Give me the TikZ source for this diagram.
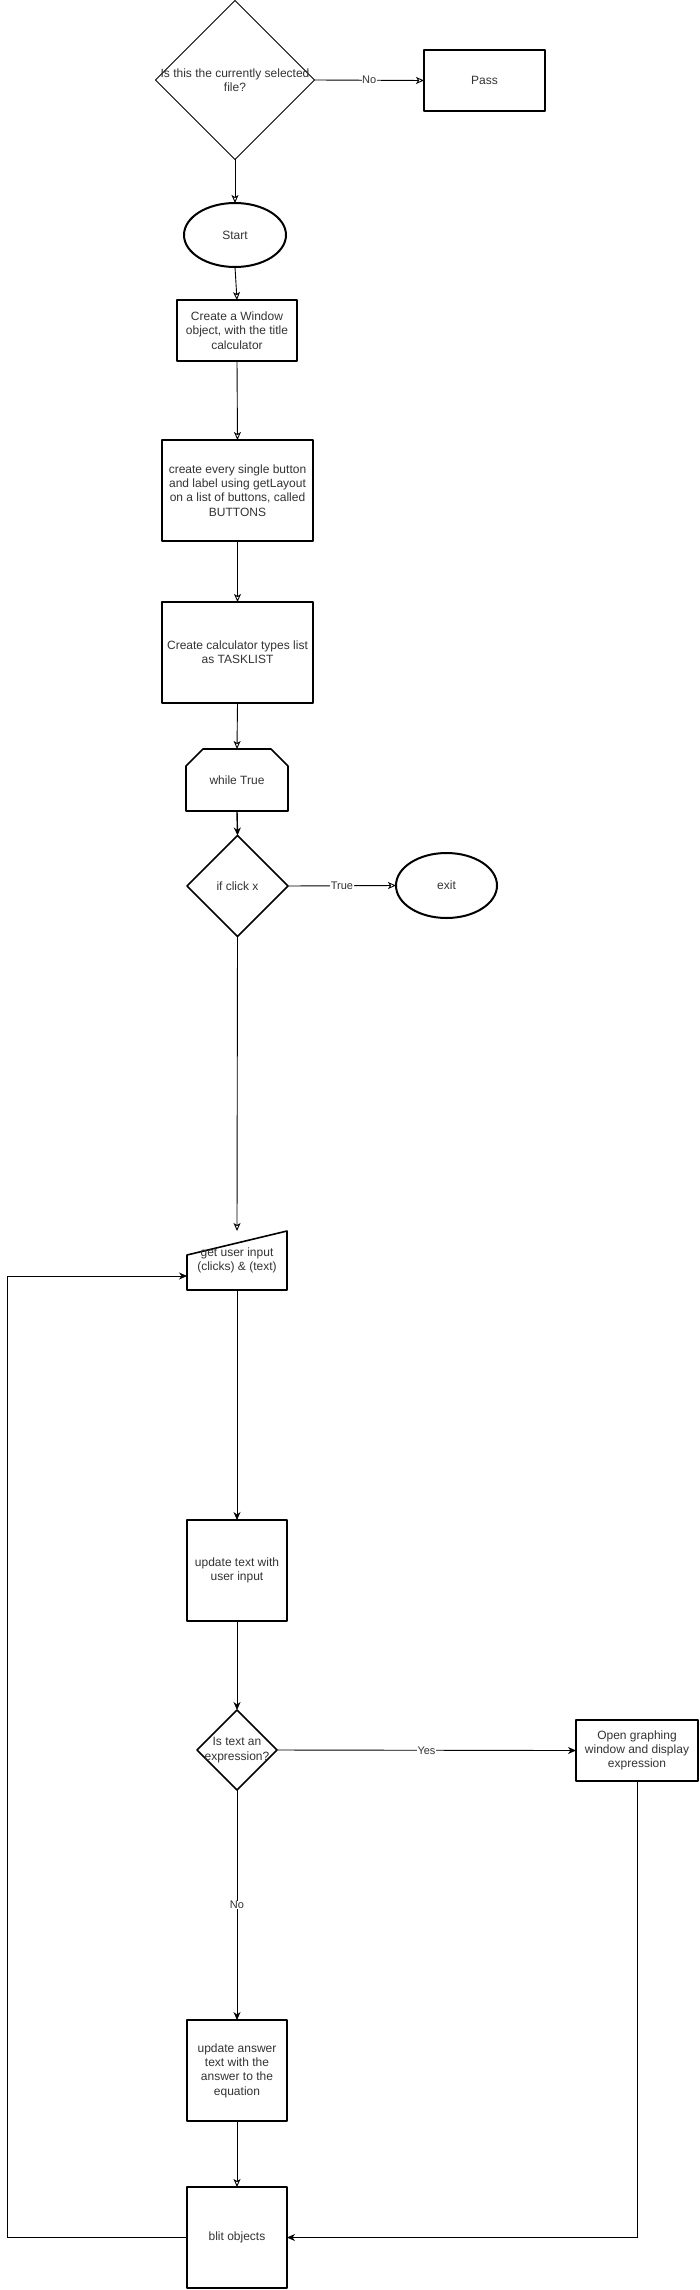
\documentclass[tikz,border=0pt]{standalone}
\usepackage{fontspec}
\setmainfont{Liberation Sans}
\usetikzlibrary{shapes.geometric,arrows.meta,calc}
\definecolor{txtc}{HTML}{333333}
\begin{document}
\begin{tikzpicture}[x=1pt,y=-1pt,
  every node/.style={inner sep=0pt,outer sep=0pt},
  txt/.style={font=\fontsize{12}{14.3}\selectfont,text=txtc,align=center},
  elab/.style={font=\fontsize{11}{13}\selectfont,text=txtc,fill=white,inner sep=0.5pt},
  boxst/.style={draw,line width=1.6pt,rectangle,line join=round},
  thindia/.style={draw,line width=0.9pt,diamond,aspect=1},
  thickdia/.style={draw,line width=1.6pt,diamond,aspect=1,line join=round},
  ellst/.style={draw,line width=2pt,ellipse},
  hol/.style={draw,line width=0.9pt,-{Stealth[open,length=8pt,width=7pt,inset=2pt]}},
  fil/.style={draw,line width=0.9pt,-{Stealth[length=8pt,width=7pt,inset=2.5pt]}}
]
\useasboundingbox (0,0) rectangle (699,2290);
\fill[white] (0,0) rectangle (699,2290);

% shapes
\node[thindia,minimum width=159pt,minimum height=159pt] (d1) at (235,80) {};
\node[txt] at (d1) {Is this the currently selected\\file?};
\node[boxst,minimum width=121pt,minimum height=61pt] (pass) at (484.5,80.5) {};
\node[txt] at (pass) {Pass};
\node[ellst,minimum width=102pt,minimum height=64pt] (start) at (235,235) {};
\node[txt] at (start) {Start};
\node[boxst,minimum width=120pt,minimum height=61pt] (win) at (237,330.5) {};
\node[txt] at (win) {Create a Window\\object, with the title\\calculator};
\node[boxst,minimum width=151pt,minimum height=101pt] (btn) at (237.5,490.5) {};
\node[txt] at (btn) {create every single button\\and label using getLayout\\on a list of buttons, called\\BUTTONS};
\node[boxst,minimum width=151pt,minimum height=101pt] (task) at (237.5,652.5) {};
\node[txt] at (task) {Create calculator types list\\as TASKLIST};
% loop limit (chamfered top corners)
\node[minimum width=102pt,minimum height=62pt] (while) at (237,780) {};
\draw[line width=1.6pt,line join=round] (while.south west) -- ($(while.north west)+(0,17)$) -- ($(while.north west)+(17,0)$) -- ($(while.north east)+(-17,0)$) -- ($(while.north east)+(0,17)$) -- (while.south east) -- cycle;
\node[txt] at (while) {while True};
\node[thickdia,minimum width=101pt,minimum height=101pt] (ifx) at (237.5,886) {};
\node[txt] at (ifx) {if click x};
\node[ellst,minimum width=101pt,minimum height=65pt] (exit) at (446.5,885.5) {};
\node[txt] at (exit) {exit};
% manual input
\node[minimum width=100pt,minimum height=59pt] (gui) at (237,1260.5) {};
\draw[line width=1.6pt,line join=round] (gui.south west) -- ($(gui.north west)+(0,24)$) -- (gui.north east) -- (gui.south east) -- cycle;
\node[txt] at (gui) {get user input\\(clicks) \& (text)};
\node[boxst,minimum width=100pt,minimum height=101pt] (upd) at (237,1570.5) {};
\node[txt] at (upd) {update text with\\user input};
\node[thickdia,minimum width=80pt,minimum height=80pt] (expr) at (237,1750) {};
\node[txt] at (expr) {Is text an\\expression?};
\node[boxst,minimum width=122pt,minimum height=61pt] (og) at (637,1750.5) {};
\node[txt] at (og) {Open graphing\\window and display\\expression};
\node[boxst,minimum width=100pt,minimum height=101pt] (ans) at (237,2070.5) {};
\node[txt] at (ans) {update answer\\text with the\\answer to the\\equation};
\node[boxst,minimum width=100pt,minimum height=101pt] (blit) at (237,2237.5) {};
\node[txt] at (blit) {blit objects};

% connectors
\path[hol] (d1.south) -- (start.north);
\path[hol] (d1.east) -- node[elab]{No} (pass.west);
\path[hol] (start.south) -- (win.north);
\path[hol] (win.south) -- (btn.north);
\path[hol] (btn.south) -- (task.north);
\path[hol] (task.south) -- (while.north);
\path[fil,line width=1.4pt] (while.south) -- (ifx.north);
\path[hol] (ifx.east) -- node[elab]{True} (exit.west);
\path[hol] (ifx.south) -- (gui.north);
\path[fil] (gui.south) -- (upd.north);
\path[fil] (upd.south) -- (expr.north);
\path[fil] (expr.east) -- node[elab]{Yes} (og.west);
\path[fil] (expr.south) -- node[elab]{No} (ans.north);
\path[hol] (ans.south) -- (blit.north);
\path[fil] (og.south) |- (blit.east);
\coordinate (lc1) at (7,2237.5);
\coordinate (lc2) at (7,1276);
\path[fil] (blit.west) -- (lc1) -- (lc2) -- (lc2 -| gui.west);
\end{tikzpicture}
\end{document}
